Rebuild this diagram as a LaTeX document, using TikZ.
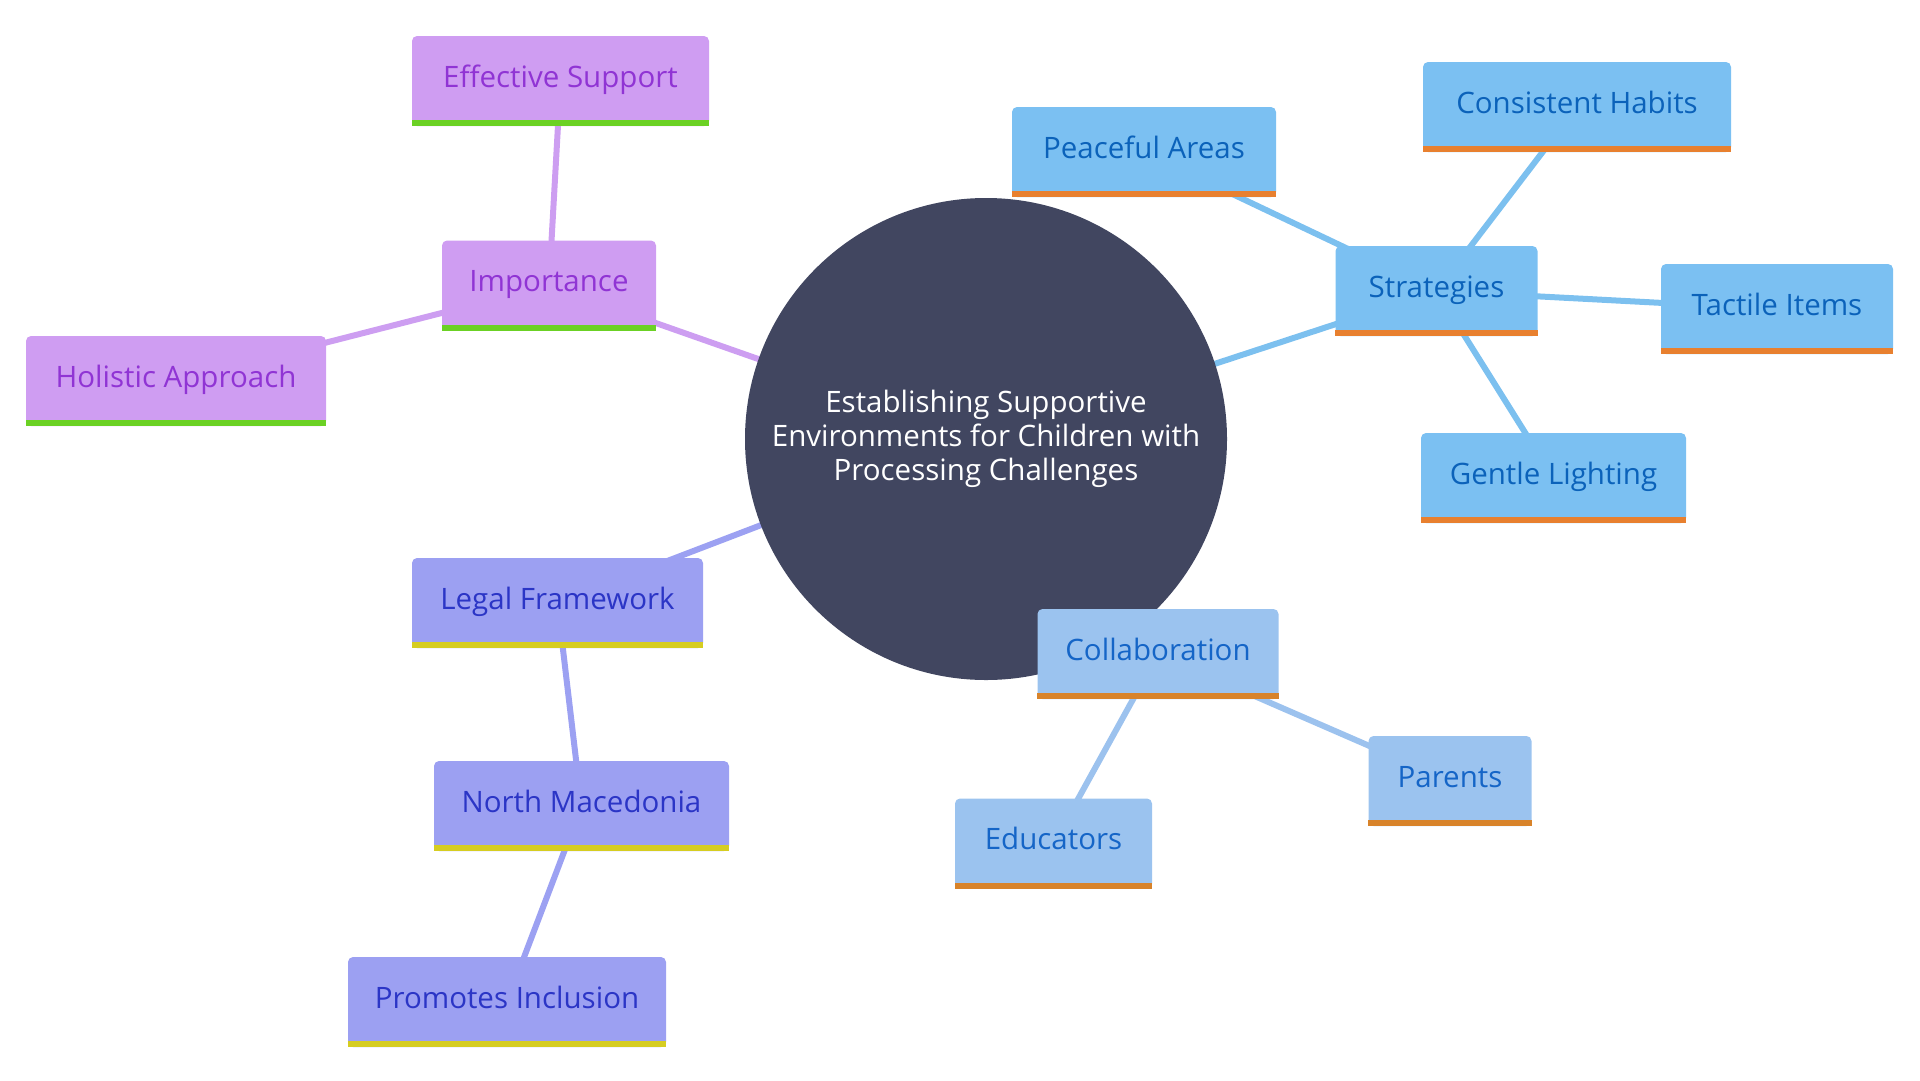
\documentclass[tikz,border=0pt]{standalone}
\usepackage{fontspec}
\setmainfont{Open Sans}
\usetikzlibrary{backgrounds}
\definecolor{hubfill}{HTML}{414660}
\definecolor{pfill}{HTML}{CF9DF2}\definecolor{ptext}{HTML}{9034D4}\definecolor{pbar}{HTML}{6BD124}\definecolor{pline}{HTML}{CD9EF1}
\definecolor{sfill}{HTML}{7BC0F2}\definecolor{stext}{HTML}{0B62BA}\definecolor{sbar}{HTML}{E8802F}\definecolor{sline}{HTML}{7CC0EF}
\definecolor{lfill}{HTML}{9CA0F2}\definecolor{ltext}{HTML}{2B35C6}\definecolor{lbar}{HTML}{D6CD21}\definecolor{lline}{HTML}{9CA1F2}
\definecolor{cfill}{HTML}{9BC3EF}\definecolor{ctext}{HTML}{1565C7}\definecolor{cbar}{HTML}{D8832A}\definecolor{cline}{HTML}{9CC2EE}
\newcommand\mbar[2]{\fill[#2] ([yshift=6pt]#1.south west) rectangle (#1.south east);}
\tikzset{
  mmbox/.style={rectangle, rounded corners=5pt, minimum height=90pt, text height=19pt, text depth=7pt, inner sep=0pt, font=\fontsize{29.5}{34}\selectfont},
  pbox/.style={mmbox, fill=pfill, text=ptext},
  sbox/.style={mmbox, fill=sfill, text=stext},
  lbox/.style={mmbox, fill=lfill, text=ltext},
  cbox/.style={mmbox, fill=cfill, text=ctext},
  conn/.style={line width=6pt},
  hub/.style={circle, fill=hubfill, text=white, minimum size=482pt, inner sep=0pt, align=center, font=\fontsize{29.5}{34}\selectfont}
}
\begin{document}
\begin{tikzpicture}[x=1pt,y=-1pt]
\useasboundingbox (0,0) rectangle (1920,1080);
\node[hub] (hub) at (986,439) {Establishing Supportive\\Environments for Children with\\Processing Challenges};

\node[pbox, minimum width=214pt] (imp) at (549,285.5) {Importance};
\node[pbox, minimum width=297pt] (eff) at (560.5,81) {Effective Support};
\node[pbox, minimum width=300pt] (hol) at (176,381) {Holistic Approach};

\node[sbox, minimum width=202pt] (str) at (1436.5,291) {Strategies};
\node[sbox, minimum width=264pt] (pea) at (1144,152) {Peaceful Areas};
\node[sbox, minimum width=308pt] (con) at (1577,107) {Consistent Habits};
\node[sbox, minimum width=232pt] (tac) at (1777,309) {Tactile Items};
\node[sbox, minimum width=265pt] (gen) at (1553.5,478) {Gentle Lighting};

\node[lbox, minimum width=291pt] (leg) at (557.5,603) {Legal Framework};
\node[lbox, minimum width=295pt] (nma) at (581.5,806) {North Macedonia};
\node[lbox, minimum width=318pt] (pro) at (507,1002) {Promotes Inclusion};

\node[cbox, minimum width=241pt] (col) at (1158,654) {Collaboration};
\node[cbox, minimum width=163pt] (par) at (1450,781) {Parents};
\node[cbox, minimum width=197pt] (edu) at (1053.5,843.5) {Educators};

\mbar{imp}{pbar}\mbar{eff}{pbar}\mbar{hol}{pbar}
\mbar{str}{sbar}\mbar{pea}{sbar}\mbar{con}{sbar}\mbar{tac}{sbar}\mbar{gen}{sbar}
\mbar{leg}{lbar}\mbar{nma}{lbar}\mbar{pro}{lbar}
\mbar{col}{cbar}\mbar{par}{cbar}\mbar{edu}{cbar}

\begin{scope}[on background layer]
\draw[conn, pline] (hub.center) -- (imp.center);
\draw[conn, pline] (imp.center) -- (eff.center);
\draw[conn, pline] (imp.center) -- (hol.center);
\draw[conn, sline] (hub.center) -- (str.center);
\draw[conn, sline] (str.center) -- (pea.center);
\draw[conn, sline] (str.center) -- (con.center);
\draw[conn, sline] (str.center) -- (tac.center);
\draw[conn, sline] (str.center) -- (gen.center);
\draw[conn, lline] (hub.center) -- (leg.center);
\draw[conn, lline] (leg.center) -- (nma.center);
\draw[conn, lline] (nma.center) -- (pro.center);
\draw[conn, cline] (hub.center) -- (col.center);
\draw[conn, cline] (col.center) -- (par.center);
\draw[conn, cline] (col.center) -- (edu.center);
\end{scope}
\end{tikzpicture}
\end{document}
